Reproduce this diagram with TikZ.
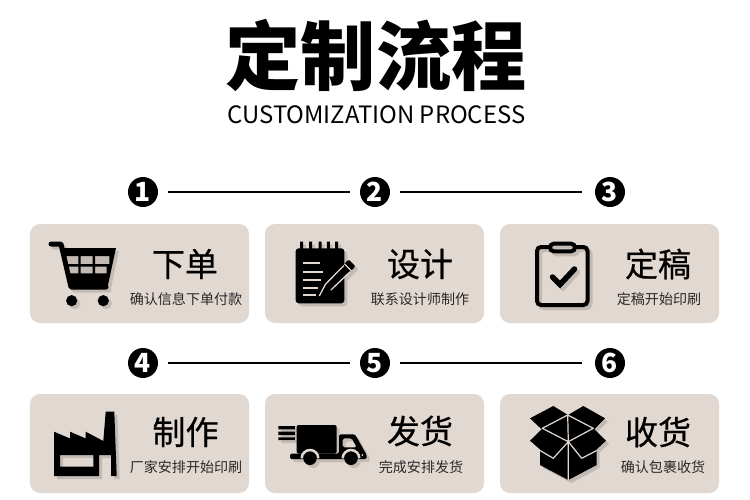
\documentclass[tikz,border=0pt]{standalone}
\usepackage{fontspec}
\usepackage{xcolor}
\setmainfont{Noto Sans CJK SC}
\newfontfamily\headfont[FakeBold=0.5]{Noto Sans CJK SC}
\definecolor{cardtan}{RGB}{226,216,210}
\definecolor{cardshade}{RGB}{196,186,180}
\definecolor{subink}{RGB}{40,40,40}

\begin{document}
\begin{tikzpicture}[x=0.2mm, y=-0.2mm,
    card/.style={fill=cardtan, rounded corners=2mm, minimum width=43.8mm, minimum height=19.8mm, inner sep=0pt},
    stepnum/.style={circle, fill=black, text=white, minimum size=6mm, inner sep=0pt, font=\fontsize{15}{16}\bfseries},
    stepline/.style={line width=0.36mm, shorten <=2mm, shorten >=2mm},
    mainlabel/.style={inner sep=0pt, text=black, font=\fontsize{18.8}{20}\headfont},
    sublabel/.style={inner sep=0pt, text=subink, font=\fontsize{8}{9}\selectfont}]
    \useasboundingbox (0,0) rectangle (750,500);
    \fill[white] (0,0) rectangle (750,500);

    % heading
    \node[inner sep=0pt, font=\fontsize{42.8}{44}\bfseries] (title) at (376,55) {定制流程};
    \node[inner sep=0pt, font=\fontsize{13.6}{15}\selectfont] (subtitle) at (376.5,115) {CUSTOMIZATION PROCESS};

    % step numbers and the lines between them
    \node[stepnum] (num1) at (143,192) {1};
    \node[stepnum] (num2) at (375,192) {2};
    \node[stepnum] (num3) at (610,192) {3};
    \node[stepnum] (num4) at (143,363) {4};
    \node[stepnum] (num5) at (375,363) {5};
    \node[stepnum] (num6) at (610,363) {6};
    \draw[stepline] (num1) -- (num2);
    \draw[stepline, shorten >=2.6mm] (num2) -- (num3);
    \draw[stepline] (num4) -- (num5);
    \draw[stepline, shorten >=2.6mm] (num5) -- (num6);

    % cards
    \node[card] (order) at (139.5,273.5) {};
    \node[card] (design) at (374.5,273.5) {};
    \node[card] (proof) at (609.5,273.5) {};
    \node[card] (make) at (139.5,443.5) {};
    \node[card] (ship) at (374.5,443.5) {};
    \node[card] (receive) at (609.5,443.5) {};

    % card texts
    \node[mainlabel] (orderhead) at (185,264) {下单};
    \node[sublabel] (ordersub) at (186,299) {确认信息下单付款};
    \node[mainlabel] (designhead) at (420,264) {设计};
    \node[sublabel] (designsub) at (420,299) {联系设计师制作};
    \node[mainlabel] (proofhead) at (658,264) {定稿};
    \node[sublabel] (proofsub) at (659,299) {定稿开始印刷};
    \node[mainlabel] (makehead) at (185.5,432) {制作};
    \node[sublabel] (makesub) at (186,467) {厂家安排开始印刷};
    \node[mainlabel] (shiphead) at (420,431) {发货};
    \node[sublabel] (shipsub) at (421,467) {完成安排发货};
    \node[mainlabel] (receivehead) at (658,432) {收货};
    \node[sublabel] (receivesub) at (663,467) {确认包裹收货};

    % shaded cart windows
    \fill[cardshade] (64,252) -- (112,252) -- (106,280) -- (70,280) -- cycle;

    % icons, first pass is the shadow
    \foreach \off/\ink in {3/cardshade, 0/black} {
    \begin{scope}[shift={(\off,\off)}]
        % cart
        \draw[\ink, line width=1mm, line cap=round, line join=round] (51,244) -- (61,244) -- (71,287) -- (106,287);
        \fill[\ink, even odd rule] (62,248) -- (116,248) -- (108,285) -- (70,285) -- cycle
            (66,256) rectangle (78.3,264) (80.7,256) rectangle (92.7,264) (95,256) rectangle (109.3,264)
            (68,266.7) rectangle (78.3,273.3) (80.7,266.7) rectangle (92.7,273.3) (95,266.7) rectangle (106.7,273.3);
        \fill[\ink] (71.7,300.7) circle (5.6) (103.3,300.7) circle (5.6);
        % notepad
        \fill[\ink, rounded corners=0.6mm] (295.7,248.3) rectangle (344.3,303.3);
        \fill[\ink] (300.2,241.7) rectangle (303.2,250) (309.2,241.7) rectangle (312.2,250) (318.5,241.7) rectangle (321.5,250)
            (326.8,241.7) rectangle (329.8,250) (335.2,241.7) rectangle (338.2,250);
        \fill[\ink, rounded corners=0.2mm] (319.3,296) -- (324.9,283.6) -- (348.6,259.6) -- (355.4,266.4) -- (331.7,290.4) -- cycle;
        % clipboard
        \draw[\ink, line width=0.8mm, rounded corners=0.8mm] (550,247) -- (537,247) -- (537,305) -- (587.5,305) -- (587.5,247) -- (575,247);
        \draw[\ink, line width=0.8mm, rounded corners=0.76mm] (550,243.7) rectangle (575,251.3);
        \draw[\ink, line width=1.1mm, line cap=round, line join=miter] (552.5,277) -- (560,284.5) -- (574.5,269);
        % factory
        \fill[\ink, even odd rule] (54,431.7) -- (70,438.5) -- (70,431.7) -- (85.7,438.5) -- (85.7,431.7) -- (103.3,441)
            -- (105.7,411.7) -- (114.3,411.7) -- (116.7,476) -- (111,476) -- (111,455) -- (99,455) -- (99,476) -- (54,476) -- cycle
            (60,455) rectangle (93.3,466.7);
        % truck
        \fill[\ink] (278.3,426) rectangle (295,429.3) (278.3,431.7) rectangle (295,435) (278.3,437.3) rectangle (295,440);
        \fill[\ink, rounded corners=0.3mm] (296.7,425) -- (336.7,425) -- (336.7,453.5) -- (296.7,453.5) -- cycle;
        \fill[\ink, rounded corners=0.3mm, even odd rule] (290,453.5) -- (339,453.5) -- (339,434.3) -- (355,434.3) -- (366.7,455) -- (366.7,459)
            -- (290,459) -- cycle (342.7,438.3) -- (351.7,438.3) -- (356.7,447.3) -- (342.7,447.3) -- cycle;
        \fill[\ink] (310,458.3) circle (6.7) (351,458.3) circle (6.7);
        % box
        \fill[\ink] (530,418.3) -- (553.3,406) -- (568,415) -- (583.3,406) -- (605,418.3) -- (594.3,429.3) -- (606,440.7)
            -- (596.7,449.3) -- (596.7,465) -- (568.3,480) -- (540,465) -- (540,449.3) -- (530,440.7) -- (541.7,429.3) -- cycle;
    \end{scope}
    }

    % light details on top of the black icons
    \draw[cardtan, line width=0.4mm] (303.3,263.3) -- (320,263.3) (303.3,271.7) -- (323,271.7) (303.3,280) -- (321,280)
        (303.3,287.7) -- (318,287.7) (303.3,295) -- (316,295);
    \draw[cardtan, line width=0.26mm, line join=round] (319.3,296) -- (325.5,284.2) -- (343.8,265.6) (350,271.8) -- (331.1,289.8) -- cycle;
    \draw[cardtan, line width=0.26mm] (344.5,264) -- (351.5,271);
    \draw[cardtan, line width=0.5mm] (310,458.3) ++(-8.3,0) arc (180:360:8.3);
    \draw[cardtan, line width=0.5mm] (351,458.3) ++(-8.3,0) arc (180:360:8.3);
    \fill[cardtan] (362.3,455) circle (1);
    \draw[cardtan, line width=0.24mm, line join=round] (542.3,428.3) -- (567.7,415) -- (593.3,428.3) -- (568.3,441.7) -- cycle
        (567.7,415) -- (568.3,441.7) -- (568.3,480)
        (568.3,441.7) -- (553.3,458.3) -- (540,450.5)
        (568.3,441.7) -- (581.7,458.3) -- (596.7,450.5);
\end{tikzpicture}
\end{document}
